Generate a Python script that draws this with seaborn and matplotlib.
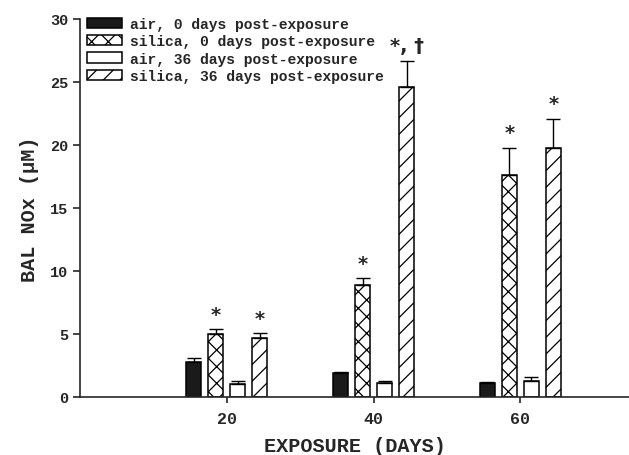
import numpy as np
import pandas as pd
import seaborn as sns
import matplotlib.pyplot as plt

# data
exposure_days = ["20", "40", "60"]
series_labels = [
    "air, 0 days post-exposure",
    "silica, 0 days post-exposure",
    "air, 36 days post-exposure",
    "silica, 36 days post-exposure",
]
air_0 = [2.8, 1.9, 1.15]
silica_0 = [5.0, 8.9, 17.6]
air_36 = [1.0, 1.1, 1.3]
silica_36 = [4.7, 24.6, 19.8]

air_0_err = [0.3, 0.1, 0.05]
silica_0_err = [0.4, 0.55, 2.2]
air_36_err = [0.3, 0.2, 0.3]
silica_36_err = [0.4, 2.1, 2.3]

silica_0_marks = ["*", "*", "*"]
silica_36_marks = ["*", "*, \u2020", "*"]

values = [air_0, silica_0, air_36, silica_36]
errors = [air_0_err, silica_0_err, air_36_err, silica_36_err]
marks = [None, silica_0_marks, None, silica_36_marks]

df = pd.DataFrame({
    "days": exposure_days * 4,
    "group": np.repeat(series_labels, 3),
    "nox": np.concatenate(values),
})

styles = [("#1a1a1a", ""), ("white", "xx"), ("white", ""), ("white", "//")]

sns.set_style("ticks")
plt.rcParams["font.family"] = ["Liberation Mono", "DejaVu Sans"]
plt.rcParams["font.weight"] = "bold"
plt.rcParams["hatch.linewidth"] = 0.9

fig = plt.figure(figsize=(6.29, 4.56), dpi=100)
ax = fig.add_axes([80 / 629, 58 / 456, 549 / 629, 378 / 456])

sns.barplot(data=df, x="days", y="nox", hue="group", hue_order=series_labels,
            order=exposure_days, width=0.6, gap=0.33, legend=False, ax=ax,
            edgecolor="black", linewidth=1.1)

for cont, (fc, hatch), errs, lab, mk in zip(ax.containers, styles, errors,
                                            series_labels, marks):
    xs, tops = [], []
    for bar in cont:
        bar.set_facecolor(fc)
        bar.set_hatch(hatch)
        bar.set_edgecolor("black")
        xs.append(bar.get_x() + bar.get_width() / 2)
        tops.append(bar.get_height())
    cont.set_label(lab)
    ax.errorbar(xs, tops, yerr=[np.zeros(len(errs)), errs], fmt="none",
                ecolor="black", elinewidth=1.0, capsize=4.7, capthick=1.0)
    if mk is not None:
        for x, t, e, m in zip(xs, tops, errs, mk):
            ax.annotate(m, (x, t + e), xytext=(0, 10.5), textcoords="offset points",
                        ha="center", va="center", fontsize=14,
                        family="DejaVu Sans", fontweight="bold")

ax.legend(handles=ax.containers[:4], labels=series_labels, loc="upper left",
          bbox_to_anchor=(0.012, 1.005), frameon=False, fontsize=10.5,
          handlelength=2.4, handleheight=0.7, labelspacing=0.22,
          handletextpad=0.6, borderpad=0, borderaxespad=0)

ax.set_xlim(-1.0, 2.74)
ax.set_ylim(0, 30)
ax.set_yticks([0, 5, 10, 15, 20, 25, 30])
ax.set_xlabel("EXPOSURE (DAYS)", fontsize=14.5, fontweight="bold", labelpad=7)
ax.set_ylabel("BAL NOx (\u00b5M)", fontsize=14.5, fontweight="bold", labelpad=8)
ax.tick_params(axis="y", labelsize=11, length=5, width=1.2, direction="out")
ax.tick_params(axis="x", labelsize=12, length=4, width=1.2, direction="out", pad=6)
sns.despine(ax=ax)
for s in ["left", "bottom"]:
    ax.spines[s].set_linewidth(1.2)

fig.savefig("out.png", dpi=100)
